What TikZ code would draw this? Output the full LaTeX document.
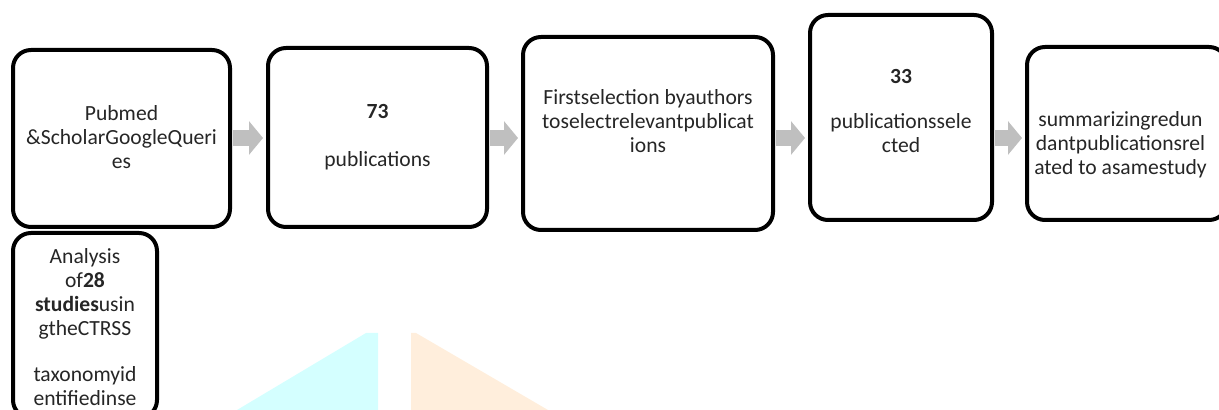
\documentclass[tikz,border=0pt]{standalone}
\usepackage{fontspec}
\setmainfont{Carlito}
\usetikzlibrary{arrows.meta}

\definecolor{flowgray}{RGB}{191,191,191}
\definecolor{inkgray}{RGB}{38,38,38}
\definecolor{markcyan}{RGB}{212,255,255}
\definecolor{markorange}{RGB}{255,238,220}

\tikzset{
  stage/.style={draw=black,line width=2pt,rounded corners=9pt,fill=white,inner sep=0pt},
  stagetext/.style={align=center,inner sep=0pt,text=inkgray,font=\fontsize{10.8}{12}\selectfont},
  flow/.style={draw=flowgray,line width=8pt,-{Triangle[width=16.5pt,length=7pt]},
    shorten <=0.5pt,shorten >=1.5pt}
}

\begin{document}
\begin{tikzpicture}[x=0.5pt,y=-0.5pt]
\useasboundingbox (0,0) rectangle (1219,410);
\clip (0,0) rectangle (1219,410);

% faint marks at the bottom
\fill[markcyan]   (237,410) -- (366,333) -- (378,333) -- (378,410) -- cycle;
\fill[markorange] (411,410) -- (411,333) -- (416,333) -- (548,410) -- cycle;

% stages
\node [stage,minimum width=108.5pt,minimum height=88.5pt] (queries)  at ( 121.5,138.5) {};
\node [stage,minimum width=109.5pt,minimum height=89.5pt] (found)    at ( 377.5,137.5) {};
\node [stage,minimum width=125pt,  minimum height=96.5pt] (first)    at ( 648,  133.5) {};
\node [stage,minimum width=91pt,   minimum height=102.5pt] (selected) at ( 901,  117.5) {};
\node [stage,minimum width=100pt,  minimum height=86.5pt] (summary)  at (1127,  133.5) {};
\node [stage,minimum width=72pt,   minimum height=92.5pt] (analysis) at (  85,  325.5) {};

\node [stagetext] at ([shift={(0,-1.5)}]queries.center)
    {Pubmed\\ \&ScholarGoogleQueri\\ es};
\node [stagetext] at (found.center)
    {\textbf{73}\\[12pt] publications};
\node [stagetext] at ([shift={(0,-12.5)}]first.center)
    {Firstselection byauthors\\ toselectrelevantpublicat\\ ions};
\node [stagetext] at ([shift={(0,-6.5)}]selected.center)
    {\textbf{33}\\[10.5pt] publicationssele\\ cted};
\node [stagetext] at ([shift={(-6.5,11)}]summary.center)
    {summarizingredun\\ dantpublicationsrel\\ ated to asamestudy};
\node [stagetext] at ([shift={(0,1.5)}]analysis.center)
    {Analysis\\ of\textbf{28}\\ \textbf{studies}usin\\ gtheCTRSS\\[11pt]
     taxonomyid\\ entifiedinse};

% block arrows
\draw [flow] (queries.east |- 0,138)  -- (found.west |- 0,138);
\draw [flow] (found.east |- 0,138)    -- (first.west |- 0,138);
\draw [flow] (first.east |- 0,138)    -- (selected.west |- 0,138);
\draw [flow] (selected.east |- 0,138) -- (summary.west |- 0,138);
\end{tikzpicture}
\end{document}
